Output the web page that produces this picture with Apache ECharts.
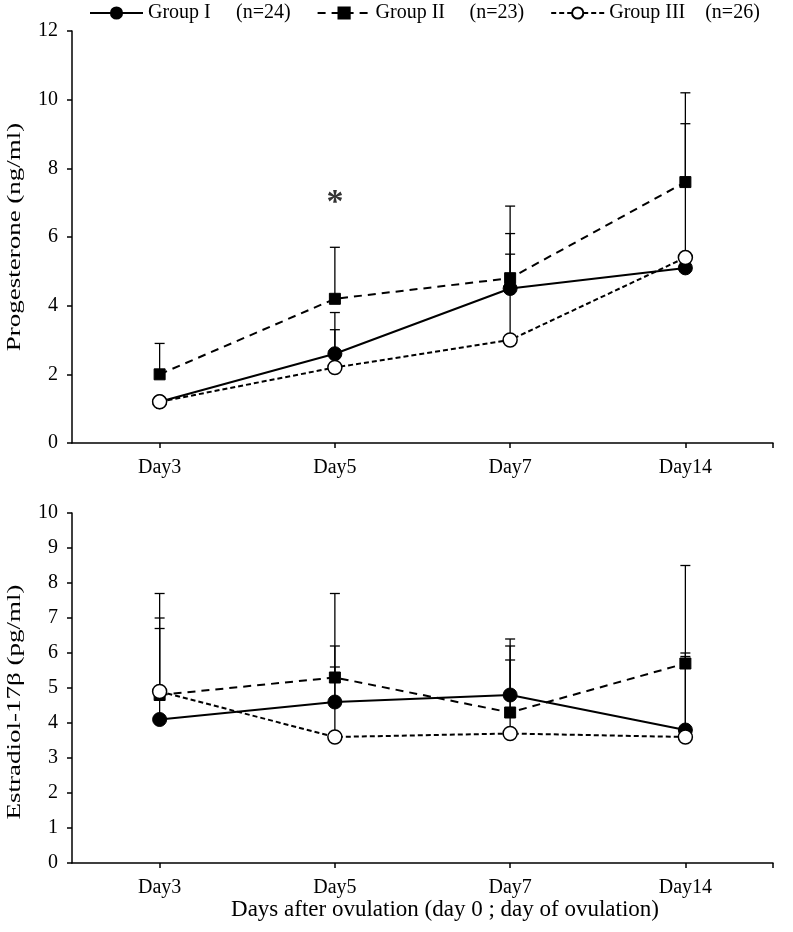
<!DOCTYPE html>
<html>
<head>
<meta charset="utf-8">
<script src="https://cdn.jsdelivr.net/npm/echarts@6/dist/echarts.min.js"></script>
<style>
html,body{margin:0;padding:0;background:#fff;}
#chart{width:793px;height:932px;}
</style>
</head>
<body>
<div id="chart"></div>
<script>
// ---- data ----
const categories = ['Day3', 'Day5', 'Day7', 'Day14'];
const groupNames = ['Group I', 'Group II', 'Group III'];
const groupN = [24, 23, 26];

// Progesterone (ng/ml): means and upper end of error bars (mean + SD)
const progG1 = [1.2, 2.6, 4.5, 5.1];
const progG2 = [2.0, 4.2, 4.8, 7.6];
const progG3 = [1.2, 2.2, 3.0, 5.4];
const progG1Upper = [null, 3.8, 6.1, null];
const progG2Upper = [2.9, 5.7, 6.9, 10.2];
const progG3Upper = [null, 3.3, 5.5, 9.3];
const progTicks = [0, 2, 4, 6, 8, 10, 12];

// Estradiol-17β (pg/ml)
const estG1 = [4.1, 4.6, 4.8, 3.8];
const estG2 = [4.8, 5.3, 4.3, 5.7];
const estG3 = [4.9, 3.6, 3.7, 3.6];
const estG1Upper = [6.7, 5.6, 6.4, 6.0];
const estG2Upper = [7.0, 7.7, 5.8, 5.9];
const estG3Upper = [7.7, 6.2, 6.2, 8.5];
const estTicks = [0, 1, 2, 3, 4, 5, 6, 7, 8, 9, 10];

// significance mark
const starPoint = [[1, 7.17]];

// ---- chart ----
const FONT = 'Liberation Serif';
const chart = echarts.init(document.getElementById('chart'), null, {renderer: 'canvas'});

function yAxisCfg(idx, ticks) {
  return {
    type: 'value', gridIndex: idx,
    min: ticks[0], max: ticks[ticks.length - 1], interval: ticks[1] - ticks[0],
    axisLine: {show: true, lineStyle: {color: '#000', width: 1.5}},
    axisTick: {show: true, inside: false, length: 5, lineStyle: {color: '#000', width: 1.5}},
    axisLabel: {color: '#000', fontFamily: FONT, fontSize: 20, margin: 14},
    splitLine: {show: false}
  };
}
function xAxisCfg(idx) {
  return {
    type: 'category', gridIndex: idx, data: categories, boundaryGap: true,
    axisLine: {show: true, lineStyle: {color: '#000', width: 1.5}},
    axisTick: {show: true, alignWithLabel: true, length: 5, lineStyle: {color: '#000', width: 1.5}},
    axisLabel: {color: '#000', fontFamily: FONT, fontSize: 20, margin: 15},
    splitLine: {show: false}
  };
}
function endTickAxis(idx) {
  return {
    type: 'value', gridIndex: idx, min: 0, max: categories.length, position: 'bottom',
    axisLine: {show: false},
    axisTick: {show: true, customValues: [categories.length], length: 5, lineStyle: {color: '#000', width: 1.5}},
    axisLabel: {show: false},
    splitLine: {show: false}
  };
}

const lineStyles = [
  {color: '#000', width: 2, type: 'solid'},
  {color: '#000', width: 2, type: [8, 6]},
  {color: '#000', width: 2, type: [5, 3]}
];
const symbols = [
  {symbol: 'circle', symbolSize: 14, itemStyle: {color: '#000', borderColor: '#000', borderWidth: 1}},
  {symbol: 'rect', symbolSize: 11, itemStyle: {color: '#000', borderColor: '#000', borderWidth: 1}},
  {symbol: 'circle', symbolSize: 14, itemStyle: {color: '#fff', borderColor: '#000', borderWidth: 1.5}}
];

function lineSeries(g, data, axisIdx) {
  return {
    type: 'line', name: groupNames[g], data: data,
    xAxisIndex: axisIdx, yAxisIndex: axisIdx,
    symbol: symbols[g].symbol, symbolSize: symbols[g].symbolSize,
    itemStyle: symbols[g].itemStyle, lineStyle: lineStyles[g],
    showSymbol: true, animation: false, z: 3 + g
  };
}
function errSeries(means, uppers, axisIdx) {
  const d = [];
  means.forEach((m, i) => { if (uppers[i] != null) d.push([i, m, uppers[i]]); });
  return {
    type: 'custom', xAxisIndex: axisIdx, yAxisIndex: axisIdx, data: d, z: 2,
    silent: true, animation: false,
    renderItem: function (params, api) {
      const x = api.value(0);
      const p0 = api.coord([x, api.value(1)]);
      const p1 = api.coord([x, api.value(2)]);
      const half = 5;
      const st = {stroke: '#000', lineWidth: 1.3};
      return {
        type: 'group',
        children: [
          {type: 'line', shape: {x1: p0[0], y1: p0[1], x2: p1[0], y2: p1[1]}, style: st},
          {type: 'line', shape: {x1: p1[0] - half, y1: p1[1], x2: p1[0] + half, y2: p1[1]}, style: st}
        ]
      };
    }
  };
}

const legendRich = {
  a0: {width: 88, fontFamily: FONT, fontSize: 20, color: '#000'},
  a1: {width: 94, fontFamily: FONT, fontSize: 20, color: '#000'},
  a2: {width: 96, fontFamily: FONT, fontSize: 20, color: '#000'},
  b: {fontFamily: FONT, fontSize: 20, color: '#000'}
};

const option = {
  backgroundColor: '#fff',
  animation: false,
  legend: {
    data: groupNames, left: 89, top: 3, padding: 0,
    itemWidth: 53, itemHeight: 14, itemGap: 26,
    formatter: function (name) {
      const i = groupNames.indexOf(name);
      return '{a' + i + '|' + name + '}{b|(n=' + groupN[i] + ')}';
    },
    textStyle: {rich: legendRich, fontFamily: FONT, fontSize: 20, color: '#000'},
    selectedMode: false
  },
  grid: [
    {left: 72, right: 20, top: 31, height: 412},
    {left: 72, right: 20, top: 513, height: 350}
  ],
  xAxis: [xAxisCfg(0), xAxisCfg(1), endTickAxis(0), endTickAxis(1)],
  yAxis: [yAxisCfg(0, progTicks), yAxisCfg(1, estTicks)],
  graphic: [
    {type: 'text', x: 15, y: 237, rotation: Math.PI / 2, scaleX: 1.5,
     style: {text: 'Progesterone (ng/ml)', font: '18px "Liberation Serif"', fill: '#000', textAlign: 'center', textVerticalAlign: 'middle'}},
    {type: 'text', x: 15, y: 702, rotation: Math.PI / 2, scaleX: 1.5,
     style: {text: 'Estradiol-17β (pg/ml)', font: '18px "Liberation Serif"', fill: '#000', textAlign: 'center', textVerticalAlign: 'middle'}},
    {type: 'text', x: 445, y: 910,
     style: {text: 'Days after ovulation (day 0 ; day of ovulation)', font: '23px "Liberation Serif"', fill: '#000', textAlign: 'center', textVerticalAlign: 'middle'}}
  ],
  series: [
    errSeries(progG1, progG1Upper, 0),
    errSeries(progG2, progG2Upper, 0),
    errSeries(progG3, progG3Upper, 0),
    lineSeries(0, progG1, 0),
    lineSeries(1, progG2, 0),
    lineSeries(2, progG3, 0),
    errSeries(estG1, estG1Upper, 1),
    errSeries(estG2, estG2Upper, 1),
    errSeries(estG3, estG3Upper, 1),
    lineSeries(0, estG1, 1),
    lineSeries(1, estG2, 1),
    lineSeries(2, estG3, 1),
    {
      type: 'scatter', xAxisIndex: 0, yAxisIndex: 0, data: starPoint,
      symbol: 'circle', symbolSize: 2, itemStyle: {color: 'rgba(0,0,0,0)'},
      silent: true, z: 10,
      label: {show: true, position: 'inside', formatter: '*', fontFamily: FONT, fontSize: 34, fontWeight: 'bold', color: '#000', offset: [0, 6]}
    }
  ]
};
chart.setOption(option);
</script>
</body>
</html>
